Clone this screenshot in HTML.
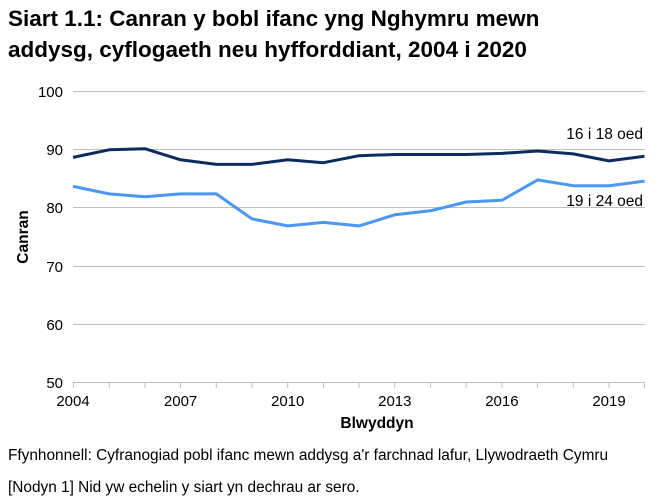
<!DOCTYPE html>
<html><head><meta charset="utf-8"><style>
body{margin:0;background:#fff;}
svg{display:block;font-family:"Liberation Sans",Arial,sans-serif;}
</style></head><body>
<svg width="662" height="501" viewBox="0 0 662 501">
<text x="8" y="26" font-size="22.5" font-weight="bold" fill="#000">Siart 1.1: Canran y bobl ifanc yng Nghymru mewn</text>
<text x="8" y="57" font-size="22.5" font-weight="bold" fill="#000">addysg, cyflogaeth neu hyfforddiant, 2004 i 2020</text>
<g stroke="#bfbfbf" stroke-width="1">
<line x1="73" y1="91.5" x2="645" y2="91.5"/>
<line x1="73" y1="149.5" x2="645" y2="149.5"/>
<line x1="73" y1="207.5" x2="645" y2="207.5"/>
<line x1="73" y1="266.5" x2="645" y2="266.5"/>
<line x1="73" y1="324.5" x2="645" y2="324.5"/>
<line x1="73" y1="382.5" x2="645" y2="382.5"/>
<line x1="73.5" y1="382" x2="73.5" y2="388"/>
<line x1="109.2" y1="382" x2="109.2" y2="388"/>
<line x1="144.9" y1="382" x2="144.9" y2="388"/>
<line x1="180.6" y1="382" x2="180.6" y2="388"/>
<line x1="216.3" y1="382" x2="216.3" y2="388"/>
<line x1="252" y1="382" x2="252" y2="388"/>
<line x1="287.7" y1="382" x2="287.7" y2="388"/>
<line x1="323.4" y1="382" x2="323.4" y2="388"/>
<line x1="359.1" y1="382" x2="359.1" y2="388"/>
<line x1="394.8" y1="382" x2="394.8" y2="388"/>
<line x1="430.5" y1="382" x2="430.5" y2="388"/>
<line x1="466.2" y1="382" x2="466.2" y2="388"/>
<line x1="501.9" y1="382" x2="501.9" y2="388"/>
<line x1="537.6" y1="382" x2="537.6" y2="388"/>
<line x1="573.3" y1="382" x2="573.3" y2="388"/>
<line x1="609" y1="382" x2="609" y2="388"/>
<line x1="644.5" y1="382" x2="644.5" y2="388"/>
</g>
<g font-size="15" fill="#000" text-anchor="end">
<text x="63" y="97">100</text><text x="63" y="155">90</text><text x="63" y="213">80</text>
<text x="63" y="272">70</text><text x="63" y="330">60</text><text x="63" y="388">50</text>
</g>
<g font-size="15" fill="#000" text-anchor="middle">
<text x="73" y="406">2004</text><text x="180.6" y="406">2007</text><text x="287.7" y="406">2010</text>
<text x="394.8" y="406">2013</text><text x="501.9" y="406">2016</text><text x="609" y="406">2019</text>
</g>
<text x="377" y="428" font-size="15.5" font-weight="bold" text-anchor="middle">Blwyddyn</text>
<text transform="translate(28,237) rotate(-90)" font-size="15.5" font-weight="bold" text-anchor="middle">Canran</text>
<polyline fill="none" stroke="#0b2d5e" stroke-width="3" stroke-linejoin="round" points="73,157.4 109.2,149.8 144.9,148.7 180.6,159.8 216.3,164.4 252,164.4 287.7,159.8 323.4,162.7 359.1,155.7 394.8,154.5 430.5,154.5 466.2,154.5 501.9,153.4 537.6,151 573.3,153.9 609,160.9 644.5,156.3"/>
<polyline fill="none" stroke="#4a97f5" stroke-width="3" stroke-linejoin="round" points="73,186.4 109.2,193.9 144.9,196.8 180.6,193.9 216.3,193.9 252,218.9 287.7,225.9 323.4,222.4 359.1,225.9 394.8,214.8 430.5,210.8 466.2,202 501.9,200.3 537.6,179.9 573.3,185.7 609,185.7 644.5,181.1"/>
<text x="643" y="139" font-size="15.5" text-anchor="end">16 i 18 oed</text>
<text x="643" y="206" font-size="15.5" text-anchor="end">19 i 24 oed</text>
<text x="8" y="460" font-size="15.4">Ffynhonnell: Cyfranogiad pobl ifanc mewn addysg a'r farchnad lafur, Llywodraeth Cymru</text>
<text x="8" y="492" font-size="15.4">[Nodyn 1] Nid yw echelin y siart yn dechrau ar sero.</text>
</svg>
</body></html>
